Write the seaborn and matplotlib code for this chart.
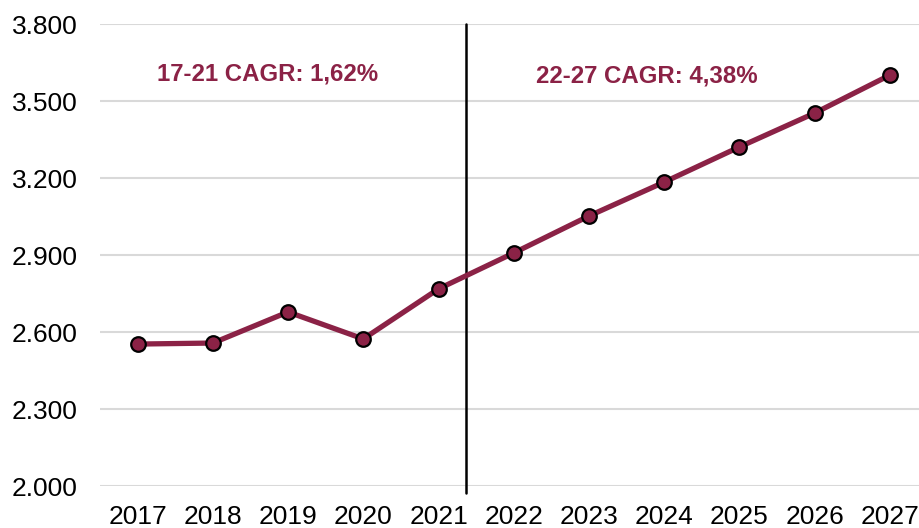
import matplotlib
matplotlib.use("Agg")
import matplotlib.pyplot as plt
import seaborn as sns
import pandas as pd

years = ["2017", "2018", "2019", "2020", "2021", "2022", "2023", "2024", "2025", "2026", "2027"]
values = [2553, 2557, 2678, 2573, 2768, 2908, 3052, 3184, 3321, 3453, 3601]
yticks = [2000, 2300, 2600, 2900, 3200, 3500, 3800]
ytick_labels = ["2.000", "2.300", "2.600", "2.900", "3.200", "3.500", "3.800"]
annotations = ["17-21 CAGR: 1,62%", "22-27 CAGR: 4,38%"]

sns.set_theme(style="white")
plt.rcParams['font.family'] = ['Liberation Sans', 'DejaVu Sans']

color = "#8B2246"
df = pd.DataFrame({"year": years, "value": values})
df["x"] = range(len(years))

fig = plt.figure(figsize=(9.2, 5.28), dpi=100)
ax = fig.add_axes([100/920, 1 - 486/528, 1 - 100/920, (486 - 24)/528])

sns.lineplot(data=df, x="x", y="value", ax=ax, color=color, linewidth=3.8,
             marker="o", markersize=10.5, markerfacecolor=color,
             markeredgecolor="black", markeredgewidth=1.6, zorder=3)

ax.set_xlim(-0.5, 10.4)
ax.set_ylim(2000, 3800)
ax.set_yticks(yticks)
ax.set_yticklabels(ytick_labels)
ax.set_xticks(df["x"])
ax.set_xticklabels(years)
ax.tick_params(axis="both", labelsize=19, colors="black", length=0)
ax.tick_params(axis="y", pad=16)
ax.tick_params(axis="x", pad=14)
ax.grid(axis="y", color="#d9d9d9", linewidth=1.5)
ax.set_axisbelow(True)
for s in ax.spines.values():
    s.set_visible(False)
ax.set_xlabel("")
ax.set_ylabel("")

ax.axvline(4.37, ymin=-0.015, ymax=1.0, color="black", linewidth=1.8, clip_on=False, zorder=2)

ax.text(1.73, 3607, annotations[0], color=color, fontsize=17.3, fontweight="bold",
        ha="center", va="center")
ax.text(6.77, 3597, annotations[1], color=color, fontsize=17.3, fontweight="bold",
        ha="center", va="center")

fig.savefig("out.png", dpi=100)
